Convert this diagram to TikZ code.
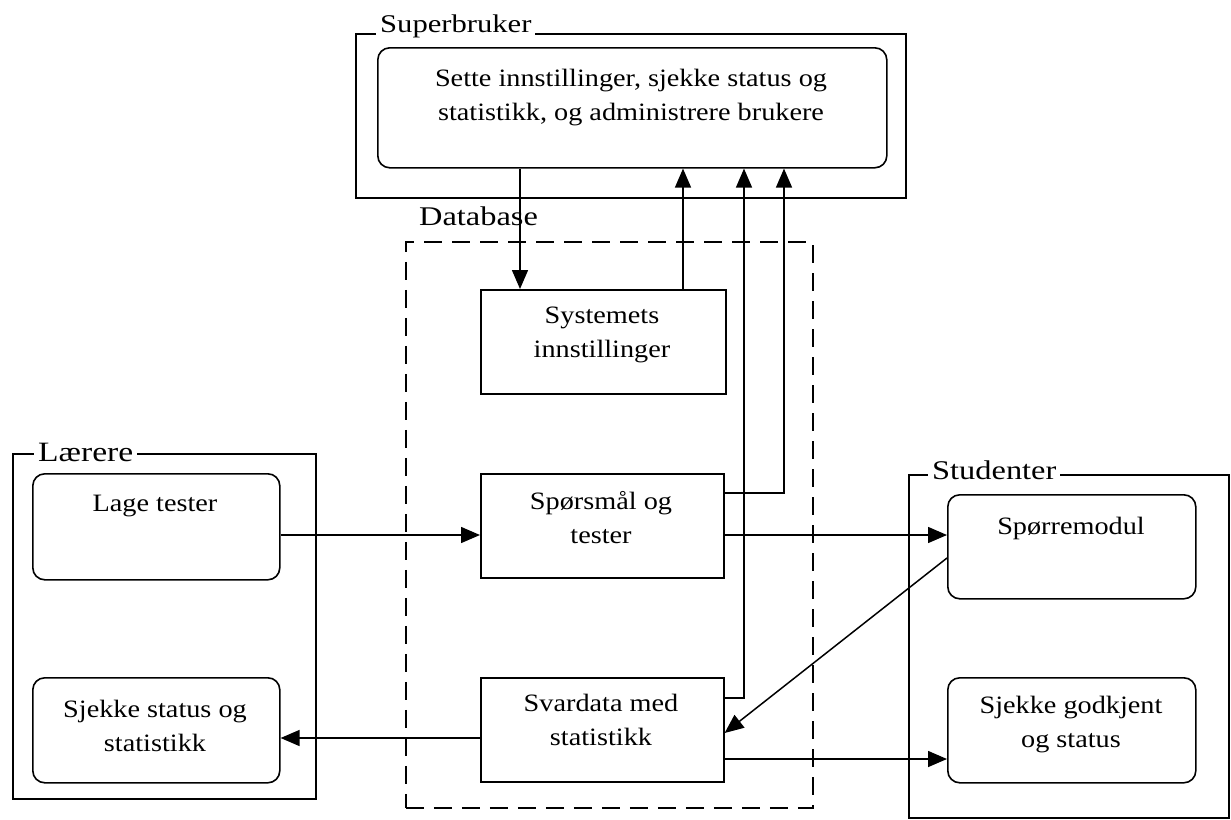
\documentclass[tikz,border=0pt]{standalone}
\usepackage{fontspec}
\setmainfont{Liberation Serif}
\newfontfamily\boxfont[FakeStretch=1.13]{Liberation Serif}
\newfontfamily\grpfont[FakeStretch=1.2]{Liberation Serif}
\usetikzlibrary{arrows.meta,calc}

\begin{document}
\begin{tikzpicture}[x=1pt,y=-1pt,
  frame/.style={draw, line width=1.8pt, inner sep=0pt, anchor=north west},
  card/.style={draw, line width=1.6pt, rounded corners=12pt, inner sep=0pt, anchor=north west},
  block/.style={draw, line width=1.6pt, inner sep=0pt, anchor=north west},
  dbarea/.style={draw, line width=1.5pt, dash pattern=on 18pt off 10pt, inner sep=0pt, anchor=north west},
  grp/.style={font=\grpfont\fontsize{27}{30}\selectfont, fill=white, inner xsep=4pt, inner ysep=1pt, anchor=base west},
  txt/.style={font=\boxfont\fontsize{25}{34}\selectfont, align=center, inner sep=0pt},
  arr/.style={line width=1.5pt, -{Triangle[length=19pt,width=16pt]}}
]
\useasboundingbox (0,0) rectangle (1231,819);

% group frames
\node[frame, minimum width=550pt, minimum height=164pt] (fsup) at (355,33) {};
\node[frame, minimum width=303pt, minimum height=345pt] (flaer) at (12,453) {};
\node[frame, minimum width=320pt, minimum height=343pt] (fstud) at (908,474) {};
\node[dbarea, minimum width=407pt, minimum height=566pt] (fdb) at (405,241) {};

% group titles
\node[grp] (lsup) at (376,32) {\fontsize{25.5}{30}\selectfont Superbruker};
\node[grp] (llaer) at (34,461) {\fontsize{28}{30}\selectfont Lærere};
\node[grp] (lstud) at (928,479) {Studenter};
\node[grp, fill=none] (ldb) at (415,225) {Database};

% activities and stores
\node[card, minimum width=509pt, minimum height=120pt] (sup) at (377,47) {};
\node[block, minimum width=245pt, minimum height=104pt] (sys) at (480,289) {};
\node[block, minimum width=243pt, minimum height=104pt] (spm) at (480,473) {};
\node[block, minimum width=243pt, minimum height=104pt] (svd) at (480,677) {};
\node[card, minimum width=247pt, minimum height=106pt] (lage) at (32,473) {};
\node[card, minimum width=247pt, minimum height=105pt] (sjs) at (32,677) {};
\node[card, minimum width=248pt, minimum height=104pt] (spor) at (947,494) {};
\node[card, minimum width=248pt, minimum height=105pt] (godk) at (947,677) {};

% box texts
\node[txt] (tsup) at (631,98) {Sette innstillinger, sjekke status og\\statistikk, og administrere brukere};
\node[txt] (tsys) at (602,335) {Systemets\\innstillinger};
\node[txt] (tspm) at (601,518) {Spørsmål og\\tester};
\node[txt] (tsvd) at (601,720) {Svardata med\\statistikk};
\node[txt] (tlage) at (155,506) {Lage tester};
\node[txt] (tsjs) at (155,726) {Sjekke status og\\statistikk};
\node[txt] (tspor) at (1071,528) {Spørremodul};
\node[txt] (tgodk) at (1071,725) {Sjekke godkjent\\og status};

% connector tracks
\coordinate (xdown) at (520,0);
\coordinate (xsys) at (683,0);
\coordinate (xsvd) at (744,0);
\coordinate (xspm) at (784,0);
\coordinate (ytest) at (0,535);
\coordinate (yspmup) at (0,493);
\coordinate (ysvdup) at (0,698);
\coordinate (ysjs) at (0,738);
\coordinate (ygod) at (0,759);
\coordinate (ydiag) at (0,558);
\coordinate (ydiagend) at (0,733);

% connectors
\draw[arr] (sup.south -| xdown) -- (sys.north -| xdown);
\draw[arr] (sys.north -| xsys) -- (sup.south -| xsys);
\draw[arr] (spm.east |- yspmup) -| (sup.south -| xspm);
\draw[arr] (svd.east |- ysvdup) -| (sup.south -| xsvd);
\draw[arr] (lage.east |- ytest) -- (spm.west |- ytest);
\draw[arr] (spm.east |- ytest) -- (spor.west |- ytest);
\draw[arr] (svd.west |- ysjs) -- (sjs.east |- ysjs);
\draw[arr] (svd.east |- ygod) -- (godk.west |- ygod);
\draw[arr] (spor.west |- ydiag) -- (svd.east |- ydiagend);
\end{tikzpicture}
\end{document}
